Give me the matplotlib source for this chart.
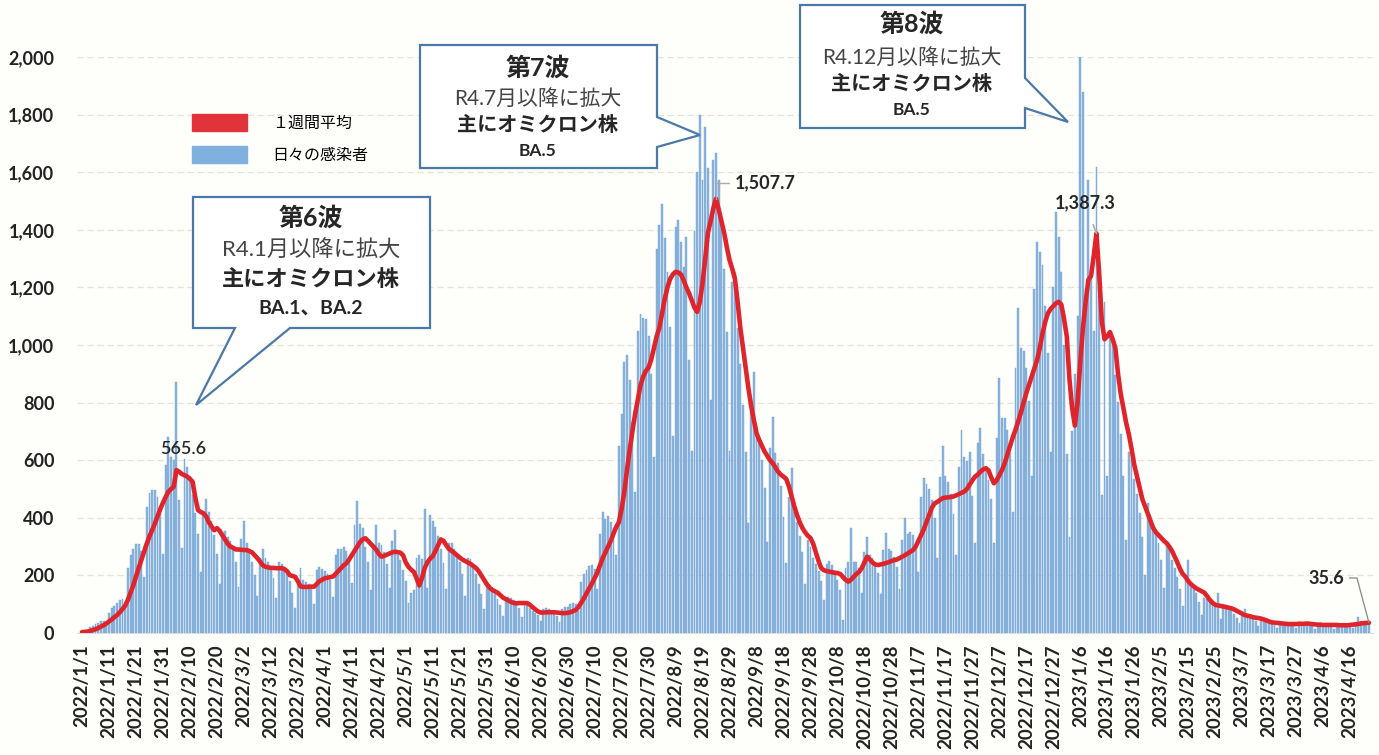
import numpy as np
import pandas as pd
import matplotlib
matplotlib.use("Agg")
import matplotlib.pyplot as plt
from matplotlib.patches import Polygon, Patch

plt.rcParams['font.family'] = ['Lato', 'Noto Sans CJK JP', 'DejaVu Sans']

# 日々の感染者 (2022/1/1 から)
daily = [
    7, 8, 7, 20, 26, 31, 36, 40, 40, 30,
    71, 86, 95, 105, 115, 119, 91, 224, 270, 291,
    310, 310, 285, 196, 437, 486, 495, 497, 472, 417,
    275, 584, 680, 612, 600, 870, 462, 294, 604, 578,
    545, 480, 416, 344, 212, 425, 465, 419, 390, 340,
    276, 171, 345, 355, 334, 319, 289, 245, 158, 328,
    390, 311, 286, 248, 200, 127, 262, 290, 260, 248,
    225, 191, 122, 247, 241, 228, 215, 180, 138, 88,
    184, 225, 185, 177, 170, 153, 102, 219, 230, 223,
    216, 205, 183, 124, 270, 290, 293, 297, 285, 255,
    173, 374, 460, 380, 365, 300, 247, 151, 305, 375,
    313, 304, 280, 240, 155, 321, 358, 282, 253, 220,
    180, 105, 140, 150, 259, 270, 258, 430, 157, 410,
    390, 368, 336, 292, 242, 153, 311, 314, 293, 275,
    245, 204, 128, 260, 258, 230, 204, 170, 134, 83,
    167, 168, 152, 135, 118, 96, 59, 120, 124, 120,
    114, 104, 88, 54, 104, 98, 86, 78, 71, 61,
    40, 83, 86, 82, 77, 69, 59, 39, 83, 91,
    92, 99, 105, 102, 76, 178, 206, 219, 231, 235,
    221, 154, 345, 421, 397, 405, 385, 366, 270, 651,
    762, 940, 965, 880, 731, 490, 1047, 1106, 1093, 1089,
    1030, 901, 611, 1334, 1417, 1490, 1370, 1254, 1064, 685,
    1409, 1434, 1357, 1271, 1376, 948, 633, 1397, 1602, 1800,
    1573, 1758, 1614, 809, 1644, 1668, 1573, 1425, 1265, 1046,
    633, 1219, 1254, 1058, 935, 790, 629, 382, 771, 905,
    725, 677, 600, 502, 316, 644, 750, 624, 589, 510,
    404, 242, 472, 573, 420, 385, 338, 281, 171, 322,
    300, 259, 240, 215, 181, 116, 240, 250, 236, 215,
    185, 151, 45, 224, 246, 364, 248, 245, 225, 140,
    282, 335, 271, 262, 240, 207, 135, 288, 347, 293,
    286, 265, 230, 152, 324, 399, 345, 352, 340, 306,
    212, 472, 538, 518, 501, 462, 398, 259, 542, 650,
    545, 526, 482, 414, 270, 575, 705, 610, 597, 630,
    476, 312, 658, 712, 621, 572, 530, 466, 311, 678,
    885, 748, 748, 705, 625, 421, 920, 1127, 991, 979,
    920, 806, 545, 1196, 1359, 1324, 1277, 1135, 973, 630,
    1200, 1463, 1376, 1254, 1000, 620, 335, 700, 900, 1100,
    2000, 1880, 1150, 1573, 1250, 1050, 1619, 1200, 480, 1150,
    545, 1035, 996, 897, 803, 690, 544, 322, 627, 606,
    535, 484, 415, 332, 201, 451, 408, 380, 352, 312,
    255, 157, 305, 294, 255, 226, 195, 153, 94, 186,
    255, 173, 160, 140, 109, 63, 121, 118, 110, 103,
    92, 139, 48, 99, 98, 89, 79, 67, 53, 33,
    67, 85, 61, 57, 50, 40, 24, 46, 44, 41,
    39, 34, 28, 18, 36, 37, 36, 34, 32, 27,
    18, 38, 38, 36, 33, 29, 25, 15, 32, 34,
    32, 31, 28, 23, 15, 31, 32, 31, 32, 30,
    26, 18, 39, 57, 41, 40, 36, 31,
]

# １週間平均
avg7 = [
    3, 4, 5, 7, 10, 13, 17, 22, 27, 33,
    40, 47, 55, 62, 72, 83, 95, 115, 140, 165,
    195, 225, 253, 282, 310, 335, 357, 380, 405, 430,
    452, 472, 490, 500, 508, 565.6, 560, 552, 548, 543,
    535, 525, 470, 427, 420, 416, 405, 385, 370, 357,
    364, 355, 340, 325, 310, 300, 296, 290, 290, 289,
    288, 288, 285, 280, 270, 260, 248, 235, 230, 228,
    226, 226, 225, 225, 225, 222, 215, 201, 198, 195,
    180, 162, 160, 160, 160, 161, 161, 170, 180, 185,
    190, 192, 194, 196, 205, 215, 225, 235, 242, 255,
    270, 285, 300, 315, 325, 329, 320, 310, 300, 290,
    275, 265, 268, 272, 276, 280, 282, 281, 279, 270,
    245, 230, 220, 212, 190, 165, 190, 225, 245, 258,
    267, 285, 305, 325, 320, 305, 292, 285, 278, 270,
    262, 255, 250, 245, 240, 233, 226, 215, 200, 185,
    170, 158, 150, 145, 140, 132, 123, 118, 113, 108,
    104, 103, 104, 104, 104, 104, 98, 90, 82, 75,
    71, 71, 72, 72, 72, 72, 71, 70, 69, 69,
    70, 72, 76, 80, 90, 105, 120, 138, 155, 172,
    190, 210, 235, 260, 280, 300, 320, 345, 368, 385,
    430, 490, 566, 635, 700, 760, 810, 860, 890, 910,
    922, 950, 990, 1030, 1060, 1110, 1160, 1200, 1230, 1245,
    1254, 1252, 1245, 1225, 1200, 1180, 1155, 1130, 1115, 1150,
    1215, 1300, 1390, 1430, 1475, 1507.7, 1470, 1430, 1390, 1340,
    1295, 1265, 1230, 1150, 1060, 990, 920, 850, 790, 740,
    694, 670, 650, 630, 615, 600, 590, 575, 560, 550,
    543, 535, 510, 475, 440, 410, 385, 365, 350, 338,
    330, 310, 280, 250, 225, 218, 215, 213, 211, 209,
    208, 205, 195, 185, 178, 185, 195, 205, 212, 225,
    245, 265, 255, 245, 238, 236, 238, 240, 243, 246,
    250, 253, 255, 260, 265, 270, 276, 282, 288, 300,
    320, 340, 360, 385, 410, 435, 450, 455, 462, 468,
    470, 471, 472, 474, 478, 482, 487, 491, 500, 515,
    530, 543, 550, 560, 568, 572, 565, 540, 520, 530,
    548, 566, 590, 620, 650, 680, 705, 735, 765, 800,
    833, 862, 890, 920, 948, 990, 1040, 1080, 1110, 1125,
    1135, 1145, 1150, 1140, 1090, 1030, 880, 780, 720, 800,
    940, 1060, 1150, 1226, 1240, 1310, 1387.3, 1250, 1080, 1020,
    1030, 1045, 1020, 990, 900, 830, 780, 730, 690, 640,
    585, 545, 505, 465, 440, 415, 390, 365, 350, 340,
    330, 320, 312, 300, 285, 265, 245, 222, 205, 195,
    180, 170, 162, 155, 150, 145, 140, 128, 115, 105,
    98, 96, 94, 92, 90, 88, 86, 82, 77, 72,
    67, 62, 60, 58, 55, 53, 52, 50, 47, 44,
    40, 37, 36, 35, 34, 33, 32, 31, 31, 31,
    31, 32, 32, 32, 33, 32, 31, 30, 29, 29,
    28, 28, 28, 28, 28, 28, 27, 27, 27, 27,
    28, 29, 30, 31, 33, 34, 35, 35.6,
]

dates = pd.date_range("2022-01-01", periods=len(daily), freq="D")

W, H = 1379, 755
fig = plt.figure(figsize=(W / 100, H / 100), dpi=100, facecolor='#fefefb')


def px(x, y):
    # 画像のピクセル座標 -> figure 座標
    return (x / W, 1 - y / H)


ax = fig.add_axes([76.6 / W, 1 - 633 / H, (1373 - 76.6) / W, (633 - 57) / H])
ax.set_facecolor('#fefefb')

ax.bar(dates, daily, width=0.7, color='#8ab4de', edgecolor='#74a3d2',
       linewidth=0.3, zorder=2)
ax.plot(dates, avg7, color='#df252b', lw=3.3, solid_joinstyle='round',
        solid_capstyle='round', zorder=3)

ax.set_xlim(dates[0] - pd.Timedelta(days=2), dates[-1] + pd.Timedelta(days=1.5))
ax.set_ylim(0, 2000)
ax.set_yticks(range(0, 2001, 200))
ax.set_yticklabels([f"{v:,}" for v in range(0, 2001, 200)],
                   fontsize=13, fontweight='bold', color='#222222')
ax.yaxis.grid(True, color='#e4e4d2', lw=0.9, ls=(0, (5, 3)))
ax.set_axisbelow(True)

xt = dates[::10]
ax.set_xticks(xt)
ax.set_xticklabels([f"{d.year}/{d.month}/{d.day}" for d in xt], rotation=90,
                   fontsize=13.5, fontweight='bold', color='#222222')
ax.tick_params(axis='both', length=0)
ax.tick_params(axis='y', pad=16)
ax.tick_params(axis='x', pad=8)
for s in ['top', 'right', 'left']:
    ax.spines[s].set_visible(False)
ax.spines['bottom'].set_color('#dddddd')

# 凡例
ax.legend(handles=[Patch(color='#e0343a'), Patch(color='#80b0dd')],
          labels=['１週間平均', '日々の感染者'],
          loc='upper left', bbox_to_anchor=px(178, 100),
          bbox_transform=fig.transFigure, frameon=False, fontsize=11.5,
          handlelength=3.4, handleheight=1.25, labelspacing=0.95,
          handletextpad=1.6)

# 吹き出し
edge = '#4a78a8'
callouts = [
    [(193, 197), (430, 197), (430, 328), (290, 328), (196, 405), (235, 328), (193, 328)],
    [(420, 45), (657, 45), (657, 117), (700, 135), (657, 147), (657, 168), (420, 168)],
    [(800, 5), (1025, 5), (1025, 78), (1068, 122), (1025, 108), (1025, 128), (800, 128)],
]
for verts in callouts:
    fig.add_artist(Polygon([px(*v) for v in verts], closed=True,
                           transform=fig.transFigure, facecolor='white',
                           edgecolor=edge, lw=1.6, zorder=5))

dark = '#262626'
wave_texts = [
    (311, [("第6波", 218, 18, 'bold'), ("R4.1月以降に拡大", 250, 16, 'normal'),
           ("主にオミクロン株", 279, 16, 'bold'), ("BA.1、BA.2", 308, 14, 'bold')]),
    (538, [("第7波", 68, 18, 'bold'), ("R4.7月以降に拡大", 99, 15, 'normal'),
           ("主にオミクロン株", 125, 14.5, 'bold'), ("BA.5", 151, 12.5, 'bold')]),
    (912, [("第8波", 24, 18, 'bold'), ("R4.12月以降に拡大", 58, 15, 'normal'),
           ("主にオミクロン株", 84, 14.5, 'bold'), ("BA.5", 110, 12.5, 'bold')]),
]
for cx, lines in wave_texts:
    for txt, cy, fs, fw in lines:
        fig.text(*px(cx, cy), txt, ha='center', va='center', fontsize=fs,
                 fontweight=fw, color='#444444' if fw == 'normal' else dark,
                 zorder=6)

# ピーク値のラベル
peak_labels = [(35, "565.6"), (235, "1,507.7"), (376, "1,387.3"), (len(avg7) - 1, "35.6")]
fig.text(*px(183, 449), peak_labels[0][1], ha='center', va='center',
         fontsize=13, color=dark, fontweight='semibold')
ax.annotate(peak_labels[1][1], xy=(dates[peak_labels[1][0]], avg7[peak_labels[1][0]]),
            xytext=px(735, 183), textcoords='figure fraction', ha='left', va='center',
            fontsize=13, fontweight='bold', color=dark,
            arrowprops=dict(arrowstyle='-', color='#aaaaaa', lw=1,
                            connectionstyle='angle,angleA=0,angleB=90,rad=0',
                            shrinkA=2, shrinkB=0))
ax.annotate(peak_labels[2][1], xy=(dates[peak_labels[2][0]], avg7[peak_labels[2][0]]),
            xytext=px(1085, 203), textcoords='figure fraction', ha='center', va='center',
            fontsize=13, fontweight='bold', color=dark,
            arrowprops=dict(arrowstyle='-', color='#b0b0b0', lw=1.3,
                            shrinkA=8, shrinkB=0))
ax.annotate(peak_labels[3][1], xy=(dates[peak_labels[3][0]], avg7[peak_labels[3][0]]),
            xytext=px(1326, 578), textcoords='figure fraction', ha='center', va='center',
            fontsize=13, fontweight='bold', color=dark,
            arrowprops=dict(arrowstyle='-', color='#888888', lw=0.9,
                            connectionstyle='angle,angleA=0,angleB=105,rad=0',
                            shrinkA=2, shrinkB=0))

fig.savefig("out.png", dpi=100, facecolor=fig.get_facecolor())
